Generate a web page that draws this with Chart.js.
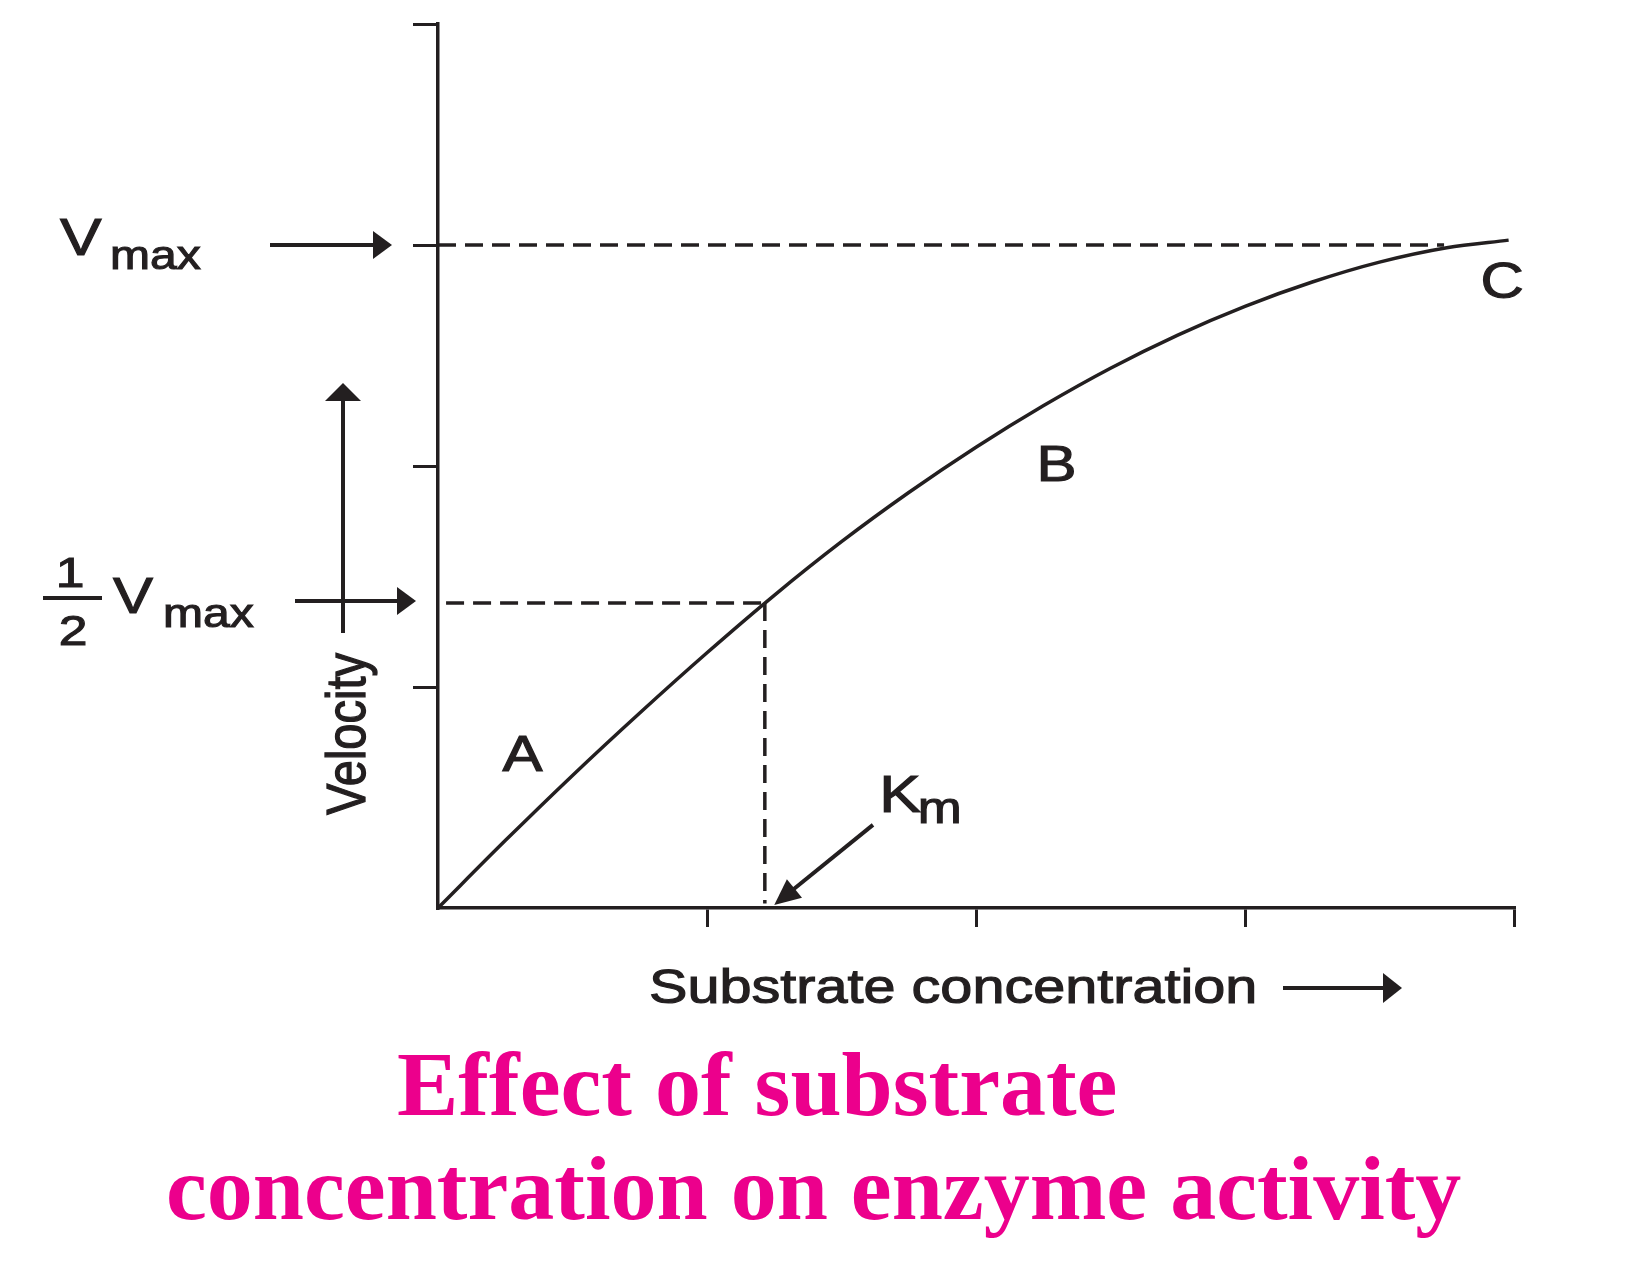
<!DOCTYPE html>
<html>
<head>
<meta charset="utf-8">
<script src="https://cdn.jsdelivr.net/npm/chart.js@4.4.1/dist/chart.umd.min.js"></script>
<style>
  html, body { margin: 0; padding: 0; background: #fff; }
  #wrap { width: 1636px; height: 1268px; position: relative; }
</style>
</head>
<body>
<div id="wrap"><canvas id="chart"></canvas></div>
<script>
// values (arbitrary units)
const substrate = [0, 0.25, 0.5, 0.75, 1.0, 1.25, 1.5, 1.75, 2.0, 2.25, 2.5, 2.75, 3.0, 3.25, 3.5, 3.75, 3.98];
const velocity  = [0, 0.305, 0.60, 0.8825, 1.155, 1.415, 1.6575, 1.88, 2.085, 2.2725, 2.4425, 2.5925, 2.7225, 2.8325, 2.9225, 2.9875, 3.022];
const axisRange = [0, 4];
const vmax = 3;
const halfVmax = 1.38;
const km = 1.215;
const vmaxGuideEnd = 3.74;

const INK = "#231f20";
const PINK = "#ec008c";
const SX = 1.2; // the original drawing is stretched sideways

const tickColour = (c) => (c.tick && c.tick.value === 0 ? "rgba(0,0,0,0)" : INK);

function label(ctx, text, x, y, size, rotate, align) {
  ctx.save();
  ctx.translate(x, y);
  ctx.scale(SX, 1);
  if (rotate) ctx.rotate(rotate);
  ctx.font = size + 'px "Liberation Sans", Arial, sans-serif';
  ctx.fillStyle = INK;
  ctx.strokeStyle = INK;
  ctx.lineWidth = 1.1;
  ctx.textBaseline = "alphabetic";
  ctx.textAlign = align || "left";
  ctx.fillText(text, 0, 0);
  ctx.strokeText(text, 0, 0);
  const w = ctx.measureText(text).width * SX;
  ctx.restore();
  return w;
}

function arrow(ctx, x1, y1, x2, y2, head, half) {
  const a = Math.atan2(y2 - y1, x2 - x1);
  const len = Math.hypot(x2 - x1, y2 - y1);
  ctx.save();
  ctx.translate(x1, y1);
  ctx.rotate(a);
  ctx.strokeStyle = INK;
  ctx.fillStyle = INK;
  ctx.lineWidth = 4;
  ctx.beginPath();
  ctx.moveTo(0, 0);
  ctx.lineTo(len - head + 2, 0);
  ctx.stroke();
  ctx.beginPath();
  ctx.moveTo(len, 0);
  ctx.lineTo(len - head, -half);
  ctx.lineTo(len - head, half);
  ctx.closePath();
  ctx.fill();
  ctx.restore();
}

const annotations = {
  id: "annotations",
  afterDraw(chart) {
    const { ctx, scales: { x, y } } = chart;
    const ax = x.getPixelForValue(0);
    const yV = y.getPixelForValue(vmax);
    const yH = y.getPixelForValue(halfVmax);

    // V max
    label(ctx, "V", ax - 378, yV + 10, 52);
    label(ctx, "max", ax - 328, yV + 24, 40);
    arrow(ctx, ax - 168, yV, ax - 46, yV, 19, 14);

    // 1/2 V max
    label(ctx, "1", ax - 368, yH - 16, 43, 0, "center");
    label(ctx, "2", ax - 365, yH + 42, 43, 0, "center");
    ctx.save();
    ctx.strokeStyle = INK;
    ctx.lineWidth = 4;
    ctx.beginPath();
    ctx.moveTo(ax - 395, yH - 5);
    ctx.lineTo(ax - 336, yH - 5);
    ctx.stroke();
    ctx.restore();
    label(ctx, "V", ax - 325, yH + 10, 50);
    label(ctx, "max", ax - 275, yH + 24, 40);
    arrow(ctx, ax - 143, yH - 2, ax - 22, yH - 2, 19, 14);

    // Velocity with its arrow
    arrow(ctx, ax - 95, yH + 30, ax - 95, yH - 220, 18, 18);
    label(ctx, "Velocity", ax - 73, y.getPixelForValue(0) - 93, 47, -Math.PI / 2);

    // Substrate concentration with its arrow
    const by = y.getPixelForValue(0);
    label(ctx, "Substrate concentration", ax + 211, by + 95, 48);
    arrow(ctx, ax + 845, by + 80, ax + 964, by + 80, 19, 15);

    // curve regions
    label(ctx, "A", x.getPixelForValue(0.24), y.getPixelForValue(0.62), 50);
    label(ctx, "B", x.getPixelForValue(2.225), y.getPixelForValue(1.93), 50);
    label(ctx, "C", x.getPixelForValue(3.875), y.getPixelForValue(2.76), 50);

    // Km
    const kx = x.getPixelForValue(1.64);
    const ky = y.getPixelForValue(0.434);
    const kw = label(ctx, "K", kx, ky, 52);
    label(ctx, "m", kx + kw - 3, ky + 11, 44);
    arrow(ctx, x.getPixelForValue(1.617), y.getPixelForValue(0.376),
      x.getPixelForValue(km + 0.035), y.getPixelForValue(0.014), 26, 12);

    // caption
    ctx.save();
    ctx.font = 'bold 92px "Liberation Serif", "Times New Roman", serif';
    ctx.fillStyle = PINK;
    ctx.textAlign = "left";
    ctx.fillText("Effect of substrate", 397, 1115);
    ctx.fillText("concentration on enzyme activity", 166, 1219);
    ctx.restore();
  }
};

const guide = { showLine: true, borderColor: INK, borderWidth: 3.5, borderDash: [18, 9], pointRadius: 0, fill: false };

new Chart(document.getElementById("chart"), {
  type: "scatter",
  data: {
    datasets: [
      { ...guide, data: [{ x: 0, y: vmax }, { x: vmaxGuideEnd, y: vmax }] },
      { ...guide, data: [{ x: 0.03, y: halfVmax }, { x: km, y: halfVmax }] },
      { ...guide, data: [{ x: km, y: halfVmax }, { x: km, y: 0.02 }] },
      {
        data: substrate.map((s, i) => ({ x: s, y: velocity[i] })),
        showLine: true,
        borderColor: INK,
        borderWidth: 3.5,
        pointRadius: 0,
        cubicInterpolationMode: "monotone"
      }
    ]
  },
  options: {
    responsive: true,
    maintainAspectRatio: false,
    animation: false,
    layout: { padding: { left: 413, right: 122, top: 24, bottom: 341 } },
    plugins: { legend: { display: false }, tooltip: { enabled: false } },
    scales: {
      x: {
        type: "linear",
        min: axisRange[0],
        max: axisRange[1],
        ticks: { display: false, stepSize: 1 },
        grid: { drawOnChartArea: false, tickLength: 19, lineWidth: 3, color: tickColour, tickColor: tickColour },
        border: { color: INK, width: 3.5 }
      },
      y: {
        type: "linear",
        min: axisRange[0],
        max: axisRange[1],
        ticks: { display: false, stepSize: 1 },
        grid: { drawOnChartArea: false, tickLength: 25, lineWidth: 3, color: tickColour, tickColor: tickColour },
        border: { color: INK, width: 3.5 }
      }
    }
  },
  plugins: [annotations]
});
</script>
</body>
</html>
